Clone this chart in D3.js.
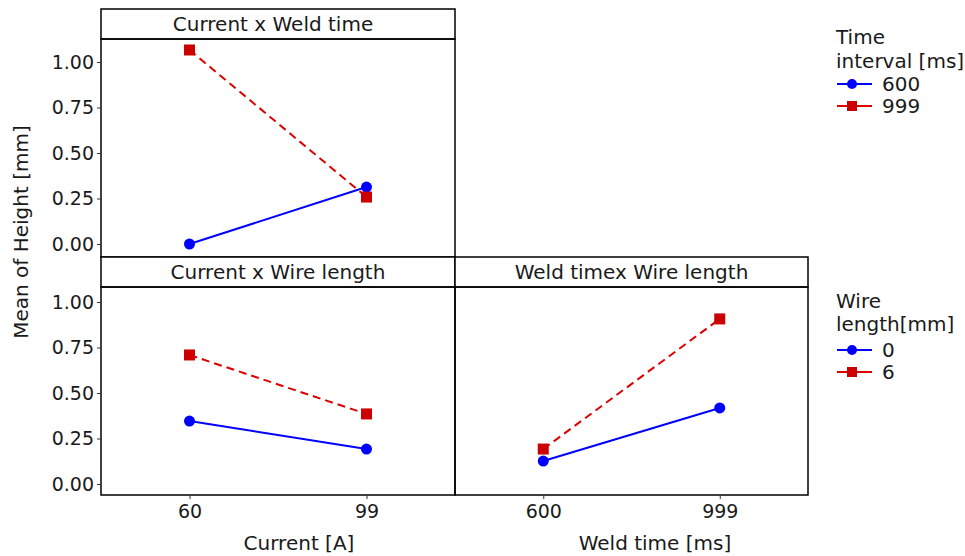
<!DOCTYPE html>
<html><head><meta charset="utf-8">
<script src="https://cdn.jsdelivr.net/npm/d3@7"></script>
<style>body{margin:0;background:#fff}svg{display:block}text{font-family:"DejaVu Sans",Verdana,sans-serif;fill:#1a1a1a}</style>
</head><body><svg id="c" width="965" height="556"></svg>
<script>
// Data
const currentLevels = ["60", "99"];
const weldLevels = ["600", "999"];
const yTicks = [0, 0.25, 0.5, 0.75, 1.0];

// Panel 1: Current x Weld time (series = time interval)
const cw600 = [0.00, 0.313];
const cw999 = [1.066, 0.258];
// Panel 2: Current x Wire length (series = wire length)
const cl0 = [0.346, 0.192];
const cl6 = [0.709, 0.385];
// Panel 3: Weld time x Wire length
const wl0 = [0.126, 0.418];
const wl6 = [0.192, 0.907];

const legend1Title = ["Time", "interval [ms]"];
const legend1Labels = ["600", "999"];
const legend2Title = ["Wire", "length[mm]"];
const legend2Labels = ["0", "6"];

const BLUE = "#0000ff", RED = "#dd0000", REDM = "#cc0000";
const svg = d3.select("#c");

function panel(o) {
  const g = svg.append("g");
  const x = d3.scalePoint().domain(o.cats).range([o.x0, o.x1]).padding(0.5);
  const y = d3.scaleLinear().domain(o.ydom).range([o.y1, o.y0]);
  // strip
  g.append("rect").attr("x", o.x0).attr("y", o.sy).attr("width", o.x1 - o.x0).attr("height", o.y0 - o.sy)
    .attr("fill", "#fff").attr("stroke", "#000").attr("stroke-width", 1.5);
  g.append("text").attr("x", (o.x0 + o.x1) / 2 + (o.tdx || 0)).attr("y", (o.sy + o.y0) / 2 + 7).attr("text-anchor", "middle")
    .style("font-size", "20px").text(o.title);
  // body
  g.append("rect").attr("x", o.x0).attr("y", o.y0).attr("width", o.x1 - o.x0).attr("height", o.y1 - o.y0)
    .attr("fill", "none").attr("stroke", "#000").attr("stroke-width", 1.5);
  if (o.yaxis) {
    const ax = g.append("g").attr("transform", `translate(${o.x0},0)`)
      .call(d3.axisLeft(y).tickValues(yTicks).tickFormat(d3.format(".2f")).tickSize(4).tickPadding(3));
    ax.select(".domain").remove();
    ax.selectAll("text").style("font-size", "19px").attr("fill", "#1a1a1a").style("font-family", "DejaVu Sans");
    ax.selectAll("line").attr("stroke", "#333");
  }
  if (o.xaxis) {
    const ax = g.append("g").attr("transform", `translate(0,${o.y1})`)
      .call(d3.axisBottom(x).tickSize(4).tickPadding(6));
    ax.select(".domain").remove();
    ax.selectAll("text").style("font-size", "19px").attr("fill", "#1a1a1a").style("font-family", "DejaVu Sans");
    ax.selectAll("line").attr("stroke", "#333");
  }
  const line = d3.line().x((d, i) => x(o.cats[i])).y(d => y(d));
  g.append("path").datum(o.s0).attr("d", line).attr("fill", "none").attr("stroke", BLUE).attr("stroke-width", 2);
  g.append("path").datum(o.s1).attr("d", line).attr("fill", "none").attr("stroke", RED).attr("stroke-width", 2)
    .attr("stroke-dasharray", "8,5");
  g.selectAll(".c").data(o.s0).enter().append("circle")
    .attr("cx", (d, i) => x(o.cats[i])).attr("cy", d => y(d)).attr("r", 5.5).attr("fill", BLUE);
  g.selectAll(".s").data(o.s1).enter().append("rect")
    .attr("x", (d, i) => x(o.cats[i]) - 5.5).attr("y", d => y(d) - 5.5).attr("width", 11).attr("height", 11).attr("fill", REDM);
  return { x, y };
}

panel({ title: "Current x Weld time", cats: currentLevels, x0: 101, x1: 455, sy: 9, y0: 39, y1: 257, tdx: -5,
  ydom: [-(257 - 244) / 182, (244 - 39) / 182], s0: cw600, s1: cw999, yaxis: true, xaxis: false });
panel({ title: "Current x Wire length", cats: currentLevels, x0: 101, x1: 455, sy: 257, y0: 287, y1: 495,
  ydom: [-(495 - 484) / 182, (484 - 287) / 182], s0: cl0, s1: cl6, yaxis: true, xaxis: true });
panel({ title: "Weld timex Wire length", cats: weldLevels, x0: 455, x1: 808, sy: 257, y0: 287, y1: 495,
  ydom: [-(495 - 484) / 182, (484 - 287) / 182], s0: wl0, s1: wl6, yaxis: false, xaxis: true });

// axis titles
svg.append("text").attr("transform", "translate(28,232) rotate(-90)").attr("text-anchor", "middle")
  .style("font-size", "20px").text("Mean of Height [mm]");
svg.append("text").attr("x", 299).attr("y", 550).attr("text-anchor", "middle").style("font-size", "20px").text("Current [A]");
svg.append("text").attr("x", 655).attr("y", 550).attr("text-anchor", "middle").style("font-size", "20px").text("Weld time [ms]");

// legends
function legend(ty, gap, iy, title, labels) {
  const g = svg.append("g");
  title.forEach((t, i) => g.append("text").attr("x", 836).attr("y", ty + i * gap).style("font-size", "20px").text(t));
  labels.forEach((l, i) => {
    const yy = iy + i * 22;
    g.append("line").attr("x1", 837).attr("x2", 872).attr("y1", yy).attr("y2", yy)
      .attr("stroke", i === 0 ? BLUE : RED).attr("stroke-width", 2);
    if (i === 0) g.append("circle").attr("cx", 852).attr("cy", yy).attr("r", 5).attr("fill", BLUE);
    else g.append("rect").attr("x", 847).attr("y", yy - 5).attr("width", 10).attr("height", 10).attr("fill", REDM);
    g.append("text").attr("x", 882).attr("y", yy + 7).style("font-size", "20px").text(l);
  });
}
legend(44, 24, 84, legend1Title, legend1Labels);
legend(308, 23, 350, legend2Title, legend2Labels);
</script></body></html>
